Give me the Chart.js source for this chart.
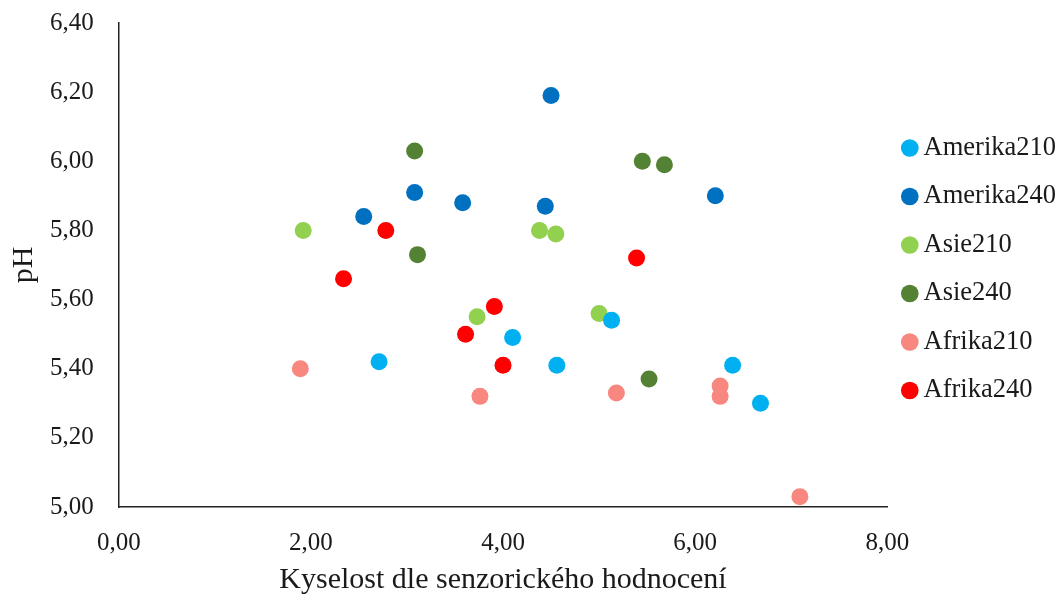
<!DOCTYPE html>
<html>
<head>
<meta charset="utf-8">
<script src="https://cdn.jsdelivr.net/npm/chart.js@4"></script>
<style>
  body { margin: 0; background: #fff; }
  #wrap { width: 1059px; height: 594px; }
</style>
</head>
<body>
<div id="wrap"><canvas id="phChart" width="1059" height="594"></canvas></div>
<script>
// data
const seriesNames = ['Amerika210', 'Amerika240', 'Asie210', 'Asie240', 'Afrika210', 'Afrika240'];
const seriesColors = ['#00B0F0', '#0070C0', '#92D050', '#548235', '#F8877F', '#FF0000'];

const amerika210X = [2.71, 4.10, 4.56, 5.13, 6.39, 6.68];
const amerika210Y = [5.42, 5.49, 5.41, 5.54, 5.41, 5.30];
const amerika240X = [4.50, 3.08, 3.58, 4.44, 6.21, 2.55];
const amerika240Y = [6.19, 5.91, 5.88, 5.87, 5.90, 5.84];
const asie210X = [1.92, 4.38, 4.55, 3.73, 5.00];
const asie210Y = [5.80, 5.80, 5.79, 5.55, 5.56];
const asie240X = [3.08, 5.45, 5.68, 3.11, 5.52];
const asie240Y = [6.03, 6.00, 5.99, 5.73, 5.37];
const afrika210X = [1.89, 3.76, 5.18, 6.26, 6.26, 7.09];
const afrika210Y = [5.40, 5.32, 5.33, 5.35, 5.32, 5.03];
const afrika240X = [2.78, 2.34, 5.39, 3.91, 3.61, 4.00];
const afrika240Y = [5.80, 5.66, 5.72, 5.58, 5.50, 5.41];

const xTicks = [0, 2, 4, 6, 8];
const yTicks = [5.0, 5.2, 5.4, 5.6, 5.8, 6.0, 6.2, 6.4];

const allX = [amerika210X, amerika240X, asie210X, asie240X, afrika210X, afrika240X];
const allY = [amerika210Y, amerika240Y, asie210Y, asie240Y, afrika210Y, afrika240Y];

function toPoints(xs, ys) {
    return xs.map((x, i) => ({ x: x, y: ys[i] }));
}

const fontFamily = '"Liberation Serif", "Times New Roman", serif';
const textColor = '#1a1a1a';

const datasets = seriesNames.map((name, i) => ({
    label: name,
    data: toPoints(allX[i], allY[i]),
    backgroundColor: seriesColors[i],
    borderColor: seriesColors[i],
    borderWidth: 0,
    pointRadius: 8.5,
    pointHoverRadius: 8.5
}));

const ctx = document.getElementById('phChart').getContext('2d');
new Chart(ctx, {
    type: 'scatter',
    data: { datasets: datasets },
    options: {
        responsive: false,
        animation: false,
        layout: { autoPadding: false, padding: { top: 0, right: -7, bottom: 0, left: 6 } },
        plugins: {
            tooltip: { enabled: false },
            legend: {
                position: 'right',
                align: 'start',
                // empty title only pushes the list down to where the reference has it
                title: { display: true, text: ' ', font: { size: 10 }, padding: { top: 100.75, bottom: 0 } },
                labels: {
                    usePointStyle: true,
                    pointStyle: 'circle',
                    boxWidth: 1,
                    boxHeight: 12.5,
                    padding: 22,
                    color: textColor,
                    font: { family: fontFamily, size: 26.5 }
                }
            }
        },
        scales: {
            x: {
                type: 'linear',
                min: 0,
                max: 8,
                afterBuildTicks: axis => { axis.ticks = xTicks.map(v => ({ value: v })); },
                grid: { display: false },
                border: { display: true, color: '#222', width: 1.5 },
                ticks: {
                    color: textColor,
                    padding: 13,
                    font: { family: fontFamily, size: 25 },
                    callback: v => v.toFixed(2).replace('.', ',')
                },
                title: {
                    display: true,
                    text: 'Kyselost dle senzorického hodnocení',
                    color: textColor,
                    font: { family: fontFamily, size: 30 },
                    padding: { top: -9, bottom: -4 }
                }
            },
            y: {
                type: 'linear',
                min: 5,
                max: 6.4,
                afterBuildTicks: axis => { axis.ticks = yTicks.map(v => ({ value: v })); },
                grid: { display: false, tickLength: 17 },
                border: { display: true, color: '#222', width: 1.5 },
                ticks: {
                    color: textColor,
                    padding: 8,
                    font: { family: fontFamily, size: 25 },
                    callback: v => v.toFixed(2).replace('.', ',')
                },
                title: {
                    display: true,
                    text: 'pH',
                    color: textColor,
                    font: { family: fontFamily, size: 30 },
                    padding: { top: 0, bottom: 0 }
                }
            }
        }
    }
});
</script>
</body>
</html>
